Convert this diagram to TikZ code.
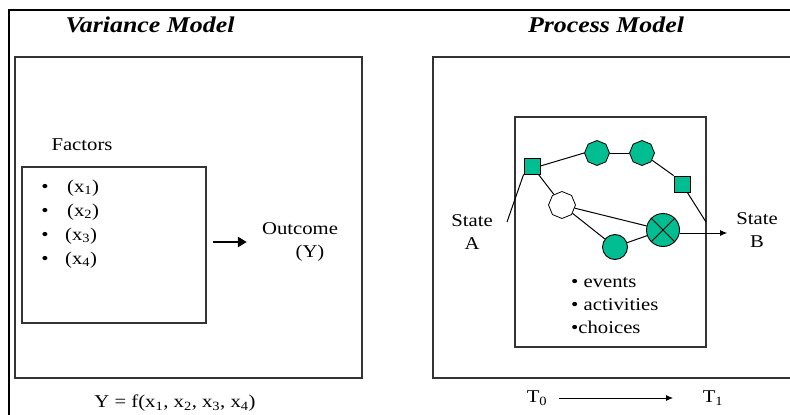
\documentclass[tikz,border=0pt]{standalone}
\usepackage{fontspec}
\setmainfont[FakeStretch=1.15]{Liberation Serif}
\usetikzlibrary{arrows.meta,positioning,shapes.geometric}
\definecolor{procgreen}{RGB}{0,190,145}

\begin{document}
\begin{tikzpicture}[x=1pt, y=-1pt,
    txt/.style={font=\fontsize{18}{23}\selectfont, inner sep=0pt, align=center},
    ttl/.style={font=\fontsize{22.5}{24}\selectfont\bfseries\itshape, inner sep=0pt},
    frame/.style={draw=black!80, line width=1.3pt},
    link/.style={draw, line width=1pt},
    sqnode/.style={rectangle, draw, fill=procgreen, minimum size=16pt,
      inner sep=0pt, line width=0.8pt},
    octnode/.style={regular polygon, regular polygon sides=8,
      shape border rotate=22.5, draw, fill=#1, minimum size=25pt,
      inner sep=0pt, line width=0.8pt},
    octnode/.default=procgreen,
    circnode/.style={circle, draw, fill=procgreen, minimum size=#1,
      inner sep=0pt, line width=0.9pt},
    >={Latex[length=7pt,width=6pt]}
  ]
  \useasboundingbox (0,0) rectangle (790,415);

  %% ===== outer frame =====
  \draw[line width=2pt] (9,415) -- (9,10) -- (790,10);

  %% ===== VARIANCE model (left) =====
  \node[ttl] (vtitle) at (150,25) {Variance Model};
  \node[frame, minimum width=347pt, minimum height=321pt, inner sep=0pt]
    (vbox) at (188.5,217.5) {};

  \node[txt] (factors) at (82,145) {Factors};
  \node[frame, minimum width=184pt, minimum height=156pt, inner sep=0pt]
    (fbox) at (114,245) {};

  \foreach \i/\dx in {1/0,2/0,3/-2,4/-2}{
    \node[txt] (bul\i) at (45,{188+24*(\i-1)}) {\textbullet};
    \node[txt, anchor=west] (fx\i) at ({67+\dx},{188+24*(\i-1)})
      {(x\textsubscript{\i})};
  }

  \node[txt] (outc) at (300,242) {Outcome\\\hspace*{20pt}(Y)};
  \draw[-{Triangle[length=9pt,width=10pt]}, line width=2.6pt,
    shorten <=6pt, shorten >=15pt] (fbox.east |- outc) -- (outc.west);

  \node[txt] (vform) at (175,403)
    {Y = f(x\textsubscript{1}, x\textsubscript{2}, x\textsubscript{3}, x\textsubscript{4})};

  %% ===== PROCESS model (right) =====
  \node[ttl] (ptitle) at (606,25) {Process Model};
  \draw[frame] (790,57) -- (433,57) -- (433,378) -- (790,378);
  \node[frame, minimum width=191pt, minimum height=230pt, inner sep=0pt]
    (pbox) at (610.5,232) {};

  \node[txt] (sta) at (472,232) {State\\A};
  \node[txt] (stb) at (757,230) {State\\B};

  %% process graph
  \node[sqnode] (sq1) at (532,166) {};
  \node[octnode] (oct1) at (597,153) {};
  \node[octnode] (oct2) at (642,153) {};
  \node[sqnode] (sq2) at (682,184) {};
  \node[octnode=white, minimum size=27pt] (octw) at (562,205) {};
  \node[circnode=25pt] (circ1) at (615,247) {};
  \node[circnode=33pt] (xcirc) at (663,230) {};
  \draw[line width=0.9pt] (xcirc.45) -- (xcirc.225) (xcirc.135) -- (xcirc.315);

  \coordinate (ain) at (507,222);
  \coordinate (bout) at (706,222);

  \draw[link] (ain) -- (sq1.south west);
  \draw[link] (sq1.east) -- (oct1.west);
  \draw[link] (oct1) -- (oct2);
  \draw[link] (oct2) -- (sq2.north west);
  \draw[link] (sq2) -- (bout);
  \draw[link] (sq1) -- (octw);
  \draw[link] (octw) -- (xcirc);
  \draw[link] (octw) -- (circ1);
  \draw[link] (circ1) -- (xcirc);
  \draw[->, line width=0.8pt, shorten >=9pt] ([yshift=-3pt]xcirc.east) -- ([yshift=-3pt]xcirc.east -| stb.west);

  \node[txt, align=left, anchor=north west] (plist) at (571,277)
    {\textbullet{} events\\ \textbullet{} activities\\ \textbullet choices};

  %% time axis
  \node[txt] (t0) at (537,398) {T\textsubscript{0}};
  \node[txt] (t1) at (713,398) {T\textsubscript{1}};
  \draw[->, line width=0.8pt, shorten <=22pt, shorten >=40pt] (t0.center) -- (t1.center);
\end{tikzpicture}
\end{document}
